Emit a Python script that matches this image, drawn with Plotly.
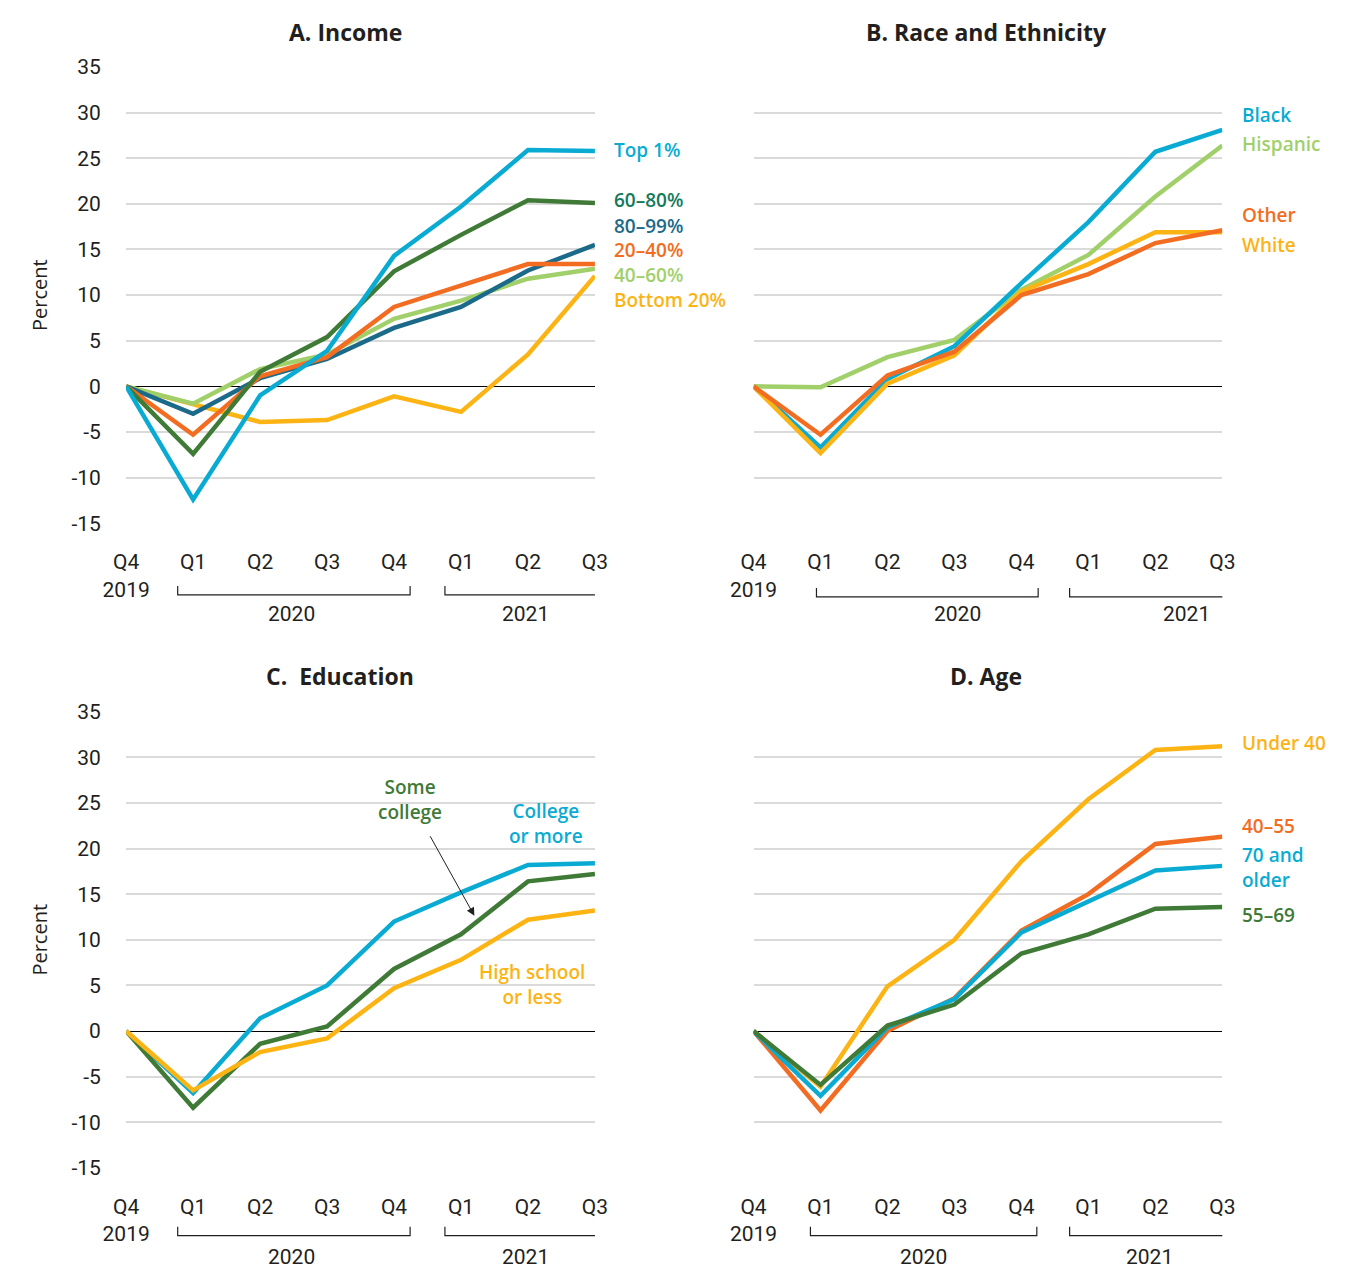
import plotly.graph_objects as go
from plotly.subplots import make_subplots

W, H = 1354, 1281

quarters = ["Q4<br>2019", "Q1", "Q2", "Q3", "Q4", "Q1", "Q2", "Q3"]
xpos = list(range(len(quarters)))
ytick_vals = [35, 30, 25, 20, 15, 10, 5, 0, -5, -10, -15]
ytick_text = ["35", "30", "25", "20", "15", "10", "5", "0", "-5", "-10", "-15"]

# A. Income
top1 = [0, -12.4, -1.0, 3.9, 14.3, 19.7, 25.9, 25.8]
p60_80 = [0, -7.4, 1.6, 5.4, 12.6, 16.6, 20.4, 20.1]
p80_99 = [0, -3.0, 0.9, 3.0, 6.4, 8.7, 12.7, 15.5]
p20_40 = [0, -5.3, 1.1, 3.2, 8.7, 11.0, 13.4, 13.4]
p40_60 = [0, -1.9, 1.9, 3.5, 7.4, 9.4, 11.8, 12.9]
bottom20 = [0, -2.0, -3.9, -3.7, -1.1, -2.8, 3.5, 12.1]

# B. Race and Ethnicity
black = [0, -6.7, 0.8, 4.4, 11.3, 18.0, 25.7, 28.1]
hispanic = [0, -0.1, 3.2, 5.1, 10.6, 14.4, 20.8, 26.4]
other = [0, -5.3, 1.2, 3.8, 10.0, 12.3, 15.7, 17.1]
white = [0, -7.3, 0.3, 3.4, 10.4, 13.4, 16.9, 16.9]

# C. Education
college_more = [0, -6.8, 1.4, 5.0, 12.0, 15.2, 18.2, 18.4]
some_college = [0, -8.4, -1.4, 0.5, 6.8, 10.6, 16.4, 17.2]
high_school = [0, -6.5, -2.3, -0.8, 4.7, 7.8, 12.2, 13.2]

# D. Age
under40 = [0, -6.1, 4.9, 10.0, 18.6, 25.4, 30.8, 31.2]
age40_55 = [0, -8.7, 0.0, 3.6, 11.0, 15.0, 20.5, 21.3]
age70 = [0, -7.1, 0.4, 3.5, 10.8, 14.2, 17.6, 18.1]
age55_69 = [0, -5.9, 0.6, 2.9, 8.5, 10.6, 13.4, 13.6]

CYAN = "#0aabd3"
DKGREEN = "#3f7a37"
TEAL = "#137a5c"
NAVY = "#1c6a8a"
ORANGE = "#f26d21"
LTGREEN = "#a1d06a"
YELLOW = "#fcb415"
INK = "#231f20"

TICKFONT = "Liberation Sans Narrow, Roboto, sans-serif"
LABELFONT = "Open Sans, Noto Sans, sans-serif"


def px(x):
    return x / W


def py(y):
    return 1 - y / H


fig = make_subplots(rows=2, cols=2)

panels = {
    (1, 1): [(bottom20, YELLOW), (p40_60, LTGREEN), (p80_99, NAVY), (p20_40, ORANGE),
             (p60_80, DKGREEN), (top1, CYAN)],
    (1, 2): [(hispanic, LTGREEN), (black, CYAN), (white, YELLOW), (other, ORANGE)],
    (2, 1): [(college_more, CYAN), (some_college, DKGREEN), (high_school, YELLOW)],
    (2, 2): [(under40, YELLOW), (age40_55, ORANGE), (age70, CYAN), (age55_69, DKGREEN)],
}
for (r, c), series in panels.items():
    for vals, col in series:
        fig.add_trace(go.Scatter(x=xpos, y=vals, mode="lines",
                                 line=dict(color=col, width=4.5), hoverinfo="skip",
                                 showlegend=False, cliponaxis=False), row=r, col=c)

xdom_l = [px(105), px(587)]
xdom_r = [px(750), px(1232)]
ydom_t = [py(521), py(56)]
ydom_b = [py(1178), py(713)]

for (r, c), xd, yd in [((1, 1), xdom_l, ydom_t), ((1, 2), xdom_r, ydom_t),
                       ((2, 1), xdom_l, ydom_b), ((2, 2), xdom_r, ydom_b)]:
    fig.update_xaxes(domain=xd, range=[0, 7], tickvals=xpos, ticktext=quarters,
                     showgrid=False, zeroline=False, showline=False,
                     ticks="outside", ticklen=20, tickcolor="rgba(0,0,0,0)",
                     tickfont=dict(family=TICKFONT, size=21, color=INK), row=r, col=c)
    fig.update_yaxes(domain=yd, range=[-15, 35], tickvals=ytick_vals, ticktext=ytick_text,
                     showgrid=True, gridcolor="#dadada", gridwidth=2,
                     zeroline=True, zerolinecolor="#000000", zerolinewidth=1,
                     showline=False, ticks="outside", ticklen=20,
                     tickcolor="rgba(0,0,0,0)", showticklabels=(c == 1),
                     tickfont=dict(family=TICKFONT, size=21, color=INK), row=r, col=c)

fig.update_yaxes(title=dict(text="Percent", font=dict(family=LABELFONT, size=20, color=INK),
                            standoff=18), row=1, col=1)
fig.update_yaxes(title=dict(text="Percent", font=dict(family=LABELFONT, size=20, color=INK),
                            standoff=18), row=2, col=1)

# year brackets under the quarter labels
brackets = [
    ("x", 594, 613, [(0.77, 4.24, 2.47, "2020"), (4.76, 7.26, 5.97, "2021")]),
    ("x2", 596, 613, [(0.94, 4.25, 3.05, "2020"), (4.72, 7.14, 6.46, "2021")]),
    ("x3", 1247, 1269, [(0.77, 4.24, 2.47, "2020"), (4.76, 7.26, 5.97, "2021")]),
    ("x4", 1247, 1269, [(0.85, 4.23, 2.54, "2020"), (4.72, 7.14, 5.91, "2021")]),
]
annotations = []
shapes = []
for xref, ybr, ytx, spans in brackets:
    for x0, x1, xt, label in spans:
        yb, yt = py(ybr), py(ybr - 9)
        shapes.append(dict(type="path", xref=xref, yref="paper",
                           path=f"M {x0},{yt} L {x0},{yb} L {x1},{yb} L {x1},{yt}",
                           line=dict(color=INK, width=1.2)))
        annotations.append(dict(x=xt, y=py(ytx), xref=xref, yref="paper", text=label,
                                showarrow=False, xanchor="center", yanchor="middle",
                                font=dict(family=TICKFONT, size=21, color=INK)))

titles = [("A. Income", 331, 20), ("B. Race and Ethnicity", 990, 20),
          ("C.  Education", 325, 677), ("D. Age", 989, 677)]
for text, x, y in titles:
    annotations.append(dict(x=px(x), y=py(y), xref="paper", yref="paper", text=f"<b>{text}</b>",
                            showarrow=False, xanchor="center", yanchor="middle",
                            font=dict(family=LABELFONT, size=23, color=INK)))

labels = [
    ("Top 1%", CYAN, 605, 141, "left"),
    ("60–80%", TEAL, 605, 192, "left"),
    ("80–99%", NAVY, 605, 218, "left"),
    ("20–40%", ORANGE, 605, 243, "left"),
    ("40–60%", LTGREEN, 605, 268, "left"),
    ("Bottom 20%", YELLOW, 605, 293, "left"),
    ("Black", CYAN, 1250, 105, "left"),
    ("Hispanic", LTGREEN, 1250, 135, "left"),
    ("Other", ORANGE, 1250, 207, "left"),
    ("White", YELLOW, 1250, 237, "left"),
    ("Some<br>college", DKGREEN, 397, 803, "center"),
    ("College<br>or more", CYAN, 537, 827, "center"),
    ("High school<br>or less", YELLOW, 522, 991, "center"),
    ("Under 40", YELLOW, 1250, 745, "left"),
    ("40–55", ORANGE, 1250, 830, "left"),
    ("70 and<br>older", CYAN, 1250, 872, "left"),
    ("55–69", DKGREEN, 1250, 920, "left"),
]
for text, col, x, y, anchor in labels:
    annotations.append(dict(x=px(x), y=py(y), xref="paper", yref="paper", text=text,
                            showarrow=False, xanchor=anchor, yanchor="middle", align=anchor,
                            font=dict(family=LABELFONT, size=19, color=col, weight=600)))

annotations.append(dict(x=px(463), y=py(921), xref="paper", yref="paper", text="",
                        showarrow=True, ax=-45, ay=-81, arrowhead=2, arrowsize=1.6,
                        arrowwidth=1, arrowcolor=INK))

fig.update_layout(width=W, height=H, margin=dict(l=0, r=0, t=0, b=0),
                  paper_bgcolor="white", plot_bgcolor="white",
                  shapes=shapes, annotations=annotations, showlegend=False)

# drop the browser's default body margin so the figure sits at the page origin
fig.write_html("out.html", config={"displayModeBar": False},
               post_script="document.body.style.margin = '0';")
